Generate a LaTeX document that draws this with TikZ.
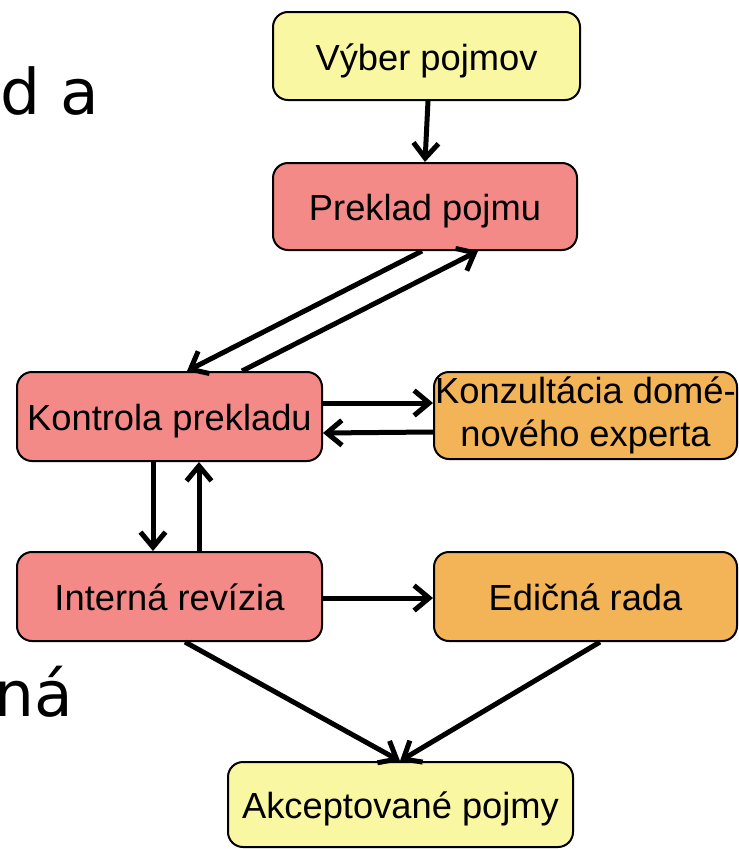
\documentclass[tikz,border=0pt]{standalone}
\usepackage{fontspec}
\setmainfont{Liberation Sans}
\newfontfamily\bigfont{DejaVu Sans}
\usetikzlibrary{arrows.meta,calc}
\definecolor{boxyellow}{HTML}{FAF7A3}
\definecolor{boxred}{HTML}{F48A88}
\definecolor{boxorange}{HTML}{F2B457}
\begin{document}
\begin{tikzpicture}[x=1pt,y=-1pt,
  box/.style={draw=black,line width=2pt,rounded corners=15pt,inner sep=0pt,
    font=\fontsize{36.3}{43}\selectfont,align=center},
  oneline/.style={text height=28pt,text depth=0pt},
  conn/.style={line width=5pt,-{Straight Barb[length=15pt,width=25pt,line width=5pt]}},
  bigtext/.style={font=\bigfont\fontsize{63}{72}\selectfont,inner sep=0pt}]
\useasboundingbox (0,0) rectangle (739,849);
\begin{scope}
\clip (0,0) rectangle (739,849);
\node[bigtext,anchor=base west] (t1) at (0,114) {d a};
\node[bigtext,anchor=base west] (t2) at (-6,716) {ná};
\end{scope}
\node[box,oneline,fill=boxyellow,minimum width=307pt,minimum height=88pt] (b1) at (426.5,56) {Výber pojmov};
\node[box,oneline,fill=boxred,minimum width=304pt,minimum height=87pt] (b2) at (425,206.5) {Preklad pojmu};
\node[box,oneline,fill=boxred,minimum width=305pt,minimum height=89pt] (b3) at (169.5,416.5) {Kontrola prekladu};
\node[box,fill=boxorange,minimum width=303pt,minimum height=87pt] (b4) at (585.5,415.5) {Konzultácia domé-\\nového experta};
\node[box,oneline,fill=boxred,minimum width=305pt,minimum height=89pt] (b5) at (169.5,596.5) {Interná revízia};
\node[box,oneline,fill=boxorange,minimum width=303pt,minimum height=89pt] (b6) at (585.5,596.5) {Edičná rada};
\node[box,oneline,fill=boxyellow,minimum width=345pt,minimum height=85pt] (b7) at (400.5,804.5) {Akceptované pojmy};
\draw[conn] ([xshift=1.5pt]b1.south) -- (b2.north);
\draw[conn] ([xshift=-3pt]b2.south) -- ([xshift=17.5pt]b3.north);
\draw[conn] ([xshift=72.5pt]b3.north) -- ([xshift=53pt]b2.south);
\draw[conn] ([yshift=13.5pt]b3.east) -- ([yshift=12.5pt]b4.west);
\draw[conn] ([yshift=-16.5pt]b4.west) -- ([yshift=-16.5pt]b3.east);
\draw[conn] ([xshift=-16.5pt]b3.south) -- ([xshift=-16.5pt]b5.north);
\draw[conn] ([xshift=29.5pt]b5.north) -- ([xshift=29.5pt]b3.south);
\draw[conn] ([yshift=-1.5pt]b5.east) -- ([yshift=-1.5pt]b6.west);
\draw[conn] ([xshift=15.5pt]b5.south) -- ([xshift=-0.5pt]b7.north);
\draw[conn] ([xshift=14.5pt]b6.south) -- ([xshift=-0.5pt]b7.north);
\end{tikzpicture}
\end{document}
